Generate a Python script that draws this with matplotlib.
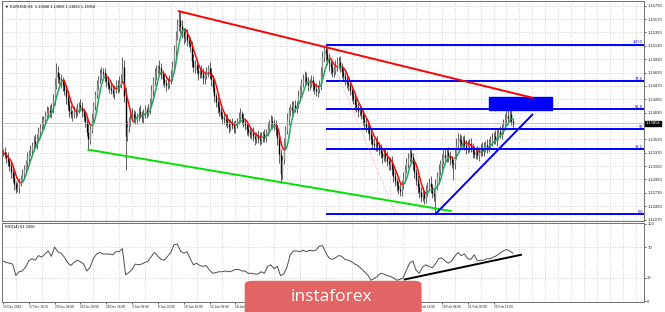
import numpy as np
import pandas as pd
import matplotlib
matplotlib.use("Agg")
import matplotlib.pyplot as plt
from matplotlib.collections import LineCollection
from matplotlib.patches import Rectangle, FancyBboxPatch

plt.rcParams["font.family"] = ["Liberation Sans", "DejaVu Sans"]

# EURUSD H4 closes, in pips above 1.1000 (13 Dec 2018 .. 26 Feb 2019)
close_pips = [
    338, 333, 329, 322, 315, 306, 296, 285, 278, 281, 289, 294, 301,
    310, 320, 328, 336, 342, 350, 356, 352, 362, 372, 380, 386, 392, 398, 404, 408, 402, 410,
    425, 448, 470, 462, 458, 455, 448,
    440, 428, 415, 405, 400, 402, 406,
    404, 410, 415, 412, 406, 398, 388, 372, 360, 375, 395, 415, 432, 448, 458, 465, 470, 468,
    462, 455, 448, 444, 440, 436, 442, 448, 444, 452, 460, 478,
    430, 365, 380,
    388, 395, 400, 396, 392, 398, 404, 400, 396, 402, 407, 403, 409,
    420, 440, 456, 466, 474, 478, 476,
    466, 458, 452, 448, 452, 458, 464,
    480, 505, 530, 548, 556,
    545, 535, 528, 532, 522, 518, 512,
    488, 478, 482, 474, 468, 472, 466, 460, 465, 470, 476, 468, 458,
    445, 430, 420, 412, 405, 398, 395, 392,
    390, 385, 380, 386, 382, 378, 384, 390, 396, 400, 394, 388,
    382, 376, 372, 368, 370, 364, 360, 366, 362, 358, 364, 368, 362, 370, 378, 384, 390, 386,
    382, 376, 362, 335, 302, 325, 352, 374, 392,
    405, 412, 408, 415, 410, 418, 432, 442, 452, 458, 462, 455, 448, 452, 456, 448, 442, 438, 442, 448,
    470, 495, 508, 500,
    492, 485, 478, 470, 474, 480, 484,
    486, 478, 470, 464, 458, 452, 448,
    440, 432, 425, 418, 412, 405, 408, 400, 392, 386, 380,
    378, 368, 360, 352, 350, 356, 348,
    342, 336, 330, 336, 330, 324, 318, 322,
    310, 298, 290, 284, 278, 274,
    284, 296, 310, 320, 328, 336, 330,
    318, 305, 292, 280, 272, 264, 270, 262,
    275, 282, 288, 280, 270, 266, 285,
    298, 308, 318, 326, 334, 330, 338, 332,
    326, 320, 318, 335, 350,
    360, 356, 352, 358, 350, 345, 348,
    352, 346, 338, 335, 340, 334, 338, 344, 340, 346, 350, 346, 352, 356,
    360, 364, 358, 366, 372, 368, 376, 382,
    392, 398, 394, 400, 390, 385,
]
# upper / lower shadow lengths in pips
up_wick = [
    6, 8, 5, 9, 4, 7, 6, 10, 5, 8, 7, 6, 9,
    7, 5, 10, 6, 8, 4, 9, 12, 6, 7, 5, 11, 6, 8, 10, 5, 7, 9,
    8, 12, 15, 10, 7, 9, 6,
    10, 8, 6, 9, 11, 5, 8,
    7, 9, 6, 10, 8, 5, 7, 9, 12, 6, 8, 5, 7, 9, 6, 10, 8, 7,
    9, 6, 8, 5, 10, 7, 6, 9, 8, 11, 7, 17,
    12, 15, 10,
    8, 6, 10, 7, 9, 5, 8, 11, 6, 7, 9, 6, 8,
    7, 9, 6, 10, 8, 4, 12,
    9, 7, 10, 6, 8, 7, 9,
    8, 10, 7, 9, 14,
    12, 10, 8, 11, 9, 7, 10,
    9, 12, 7, 10, 8, 6, 9, 11, 7, 8, 6, 10, 8,
    7, 9, 6, 8, 10, 7, 6, 9,
    8, 10, 7, 6, 9, 8, 7, 5, 8, 10, 6, 9,
    7, 6, 9, 8, 5, 10, 7, 6, 8, 9, 7, 5, 8, 6, 10, 7, 9, 8,
    6, 9, 7, 10, 8, 6, 9, 7, 10,
    8, 6, 10, 7, 9, 5, 8, 7, 6, 9, 10, 8, 6, 7, 9, 8, 6, 10, 7, 8,
    9, 10, 7, 6,
    12, 9, 8, 10, 7, 9, 11,
    8, 10, 7, 9, 6, 8, 7,
    9, 7, 6, 8, 10, 7, 9, 6, 8, 7, 9,
    8, 6, 9, 7, 10, 6, 8,
    7, 9, 6, 8, 7, 10, 6, 8,
    9, 7, 8, 6, 7, 9,
    8, 10, 7, 9, 8, 10, 9,
    7, 8, 6, 9, 7, 8, 10, 6,
    9, 7, 8, 10, 6, 7, 9,
    8, 10, 7, 9, 8, 11, 7, 9,
    8, 6, 7, 10, 12,
    10, 8, 11, 7, 9, 8, 10,
    8, 9, 7, 10, 6, 8, 9, 7, 10, 8, 6, 9, 7, 8,
    9, 7, 10, 8, 6, 9, 8, 10,
    9, 8, 10, 6, 8, 5,
]
down_wick = [
    7, 5, 9, 6, 8, 10, 7, 9, 8, 6, 10, 7, 5,
    8, 6, 9, 7, 5, 10, 8, 6, 9, 7, 11, 6, 8, 7, 5, 9, 6, 8,
    7, 9, 6, 10, 8, 12, 9,
    8, 10, 7, 9, 6, 11, 8,
    9, 6, 8, 7, 10, 8, 9, 7, 18, 8, 6, 9, 7, 5, 8, 6, 9, 7,
    8, 10, 6, 9, 7, 8, 10, 6, 9, 7, 8, 6,
    10, 56, 9,
    9, 7, 6, 10, 8, 7, 9, 6, 8, 10, 7, 9, 6,
    8, 6, 9, 7, 10, 8, 7,
    8, 10, 7, 9, 6, 8, 7,
    9, 6, 8, 7, 10,
    11, 9, 12, 8, 10, 7, 9,
    10, 8, 9, 7, 11, 8, 6, 9, 10, 7, 8, 9, 11,
    8, 10, 7, 9, 8, 6, 10, 7,
    9, 8, 10, 7, 6, 9, 8, 7, 6, 8, 10, 9,
    8, 10, 7, 6, 9, 8, 10, 7, 9, 8, 6, 10, 7, 8, 6, 9, 7, 10,
    8, 9, 12, 15, 14, 8, 7, 9, 6,
    9, 7, 8, 10, 6, 8, 7, 9, 8, 6, 10, 7, 9, 8, 6, 9, 8, 7, 10, 6,
    7, 9, 8, 12,
    10, 14, 12, 9, 8, 7, 9,
    9, 8, 10, 7, 9, 8, 10,
    8, 9, 7, 10, 8, 9, 7, 8, 10, 9, 8,
    9, 10, 8, 7, 9, 10, 8,
    9, 8, 10, 7, 9, 8, 10, 9,
    10, 9, 8, 10, 9, 8,
    8, 7, 9, 6, 8, 7, 10,
    9, 10, 8, 9, 10, 8, 7, 9,
    8, 9, 7, 10, 8, 9, 30,
    9, 7, 8, 10, 7, 9, 8, 10,
    9, 8, 26, 7, 8,
    9, 10, 8, 7, 9, 10, 8,
    9, 8, 10, 7, 9, 8, 10, 7, 8, 9, 7, 10, 8, 9,
    8, 9, 7, 10, 8, 7, 9, 8,
    8, 10, 9, 7, 8, 6,
]
# RSI(14)
rsi_2bar = [
    52, 50, 49, 48, 33, 38, 39, 44, 52, 55,
    53, 59, 57, 61, 65, 58, 70, 64, 62, 57,
    50, 46, 50, 53, 51, 48, 39, 44, 55, 61,
    63, 61, 61, 61, 60, 64, 64, 68, 34, 37,
    41, 48, 47, 48, 50, 52, 58, 63, 58, 54,
    53, 58, 63, 73, 74, 65, 62, 64, 55, 47,
    49, 46, 45, 46, 40, 36, 37, 38, 38, 39,
    38, 39, 41, 41, 39, 39, 36, 36, 35, 35,
    38, 36, 45, 47, 42, 45, 33, 35, 44, 60,
    65, 65, 64, 66, 64, 66, 65, 66, 71, 72,
    63, 56, 54, 56, 59, 58, 54, 53, 51, 48,
    46, 42, 38, 34, 27, 29, 32, 36, 35, 33,
    32, 30, 27, 28, 30, 40, 49, 52, 40, 36,
    44, 47, 45, 43, 48, 55, 56, 52, 49, 52,
    58, 63, 59, 61, 55, 54, 60, 52, 53, 53,
    55, 55, 57, 59, 62, 65, 67, 65, 62,
]

time_labels = ["13 Dec 2018", "17 Dec 16:00", "20 Dec 08:00", "26 Dec 00:00", "28 Dec 16:00",
               "3 Jan 08:00", "8 Jan 00:00", "10 Jan 16:00", "15 Jan 08:00", "18 Jan 00:00",
               "22 Jan 16:00", "25 Jan 08:00", "30 Jan 00:00", "1 Feb 16:00", "6 Feb 08:00",
               "11 Feb 00:00", "13 Feb 16:00", "18 Feb 08:00", "21 Feb 00:00", "25 Feb 16:00"]
price_ticks = [1.1227, 1.1249, 1.1271, 1.1293, 1.1315, 1.1337, 1.1359, 1.1381, 1.1403,
               1.1425, 1.1447, 1.1469, 1.1491, 1.1513, 1.1535, 1.1557, 1.1579]
rsi_ticks = [0, 30, 70, 100]
rsi_levels = [30, 70]

fib_names = ["0.0", "38.2", "50", "61.8", "78.6", "100.0"]
fib_low, fib_high, fib_start = 1.1236, 1.1515, 200

# drawn objects: (bar indices, prices)
red_line = ([109, 328], [1.1570, 1.14276])
green_line = ([53, 277.4], [1.1342, 1.12412])
blue_line = ([268, 328], [1.1236, 1.13996])
fib_diag = ([200, 243], [1.1515, 1.1238])
rsi_trend = ([249, 321], [28, 60])
box_bars = (301.5, 340.5)
box_prices = (1.1408, 1.1428)
last_price = 1.13854
header = "\u25bc EURUSD,H4  1.13848 1.13858 1.13823 1.13854"
rsi_title = "RSI(14) 61.3356"

n = len(close_pips)
x = np.arange(n)
c = 1.1 + np.array(close_pips) / 1e4
o = np.r_[c[0], c[:-1]]
hi = np.maximum(o, c) + np.array(up_wick) / 1e4
lo = np.minimum(o, c) - np.array(down_wick) / 1e4
ma = pd.Series(c).rolling(6, min_periods=1).mean().values

fig = plt.figure(figsize=(6.65, 3.12), dpi=100)
ax = fig.add_axes([0.003, 0.2917, 0.966, 0.7035])
ax2 = fig.add_axes([0.003, 0.032, 0.966, 0.2548])
grid_kw = dict(ls=(0, (1, 2)), color="#c4c4c4", lw=0.6)

for a in (ax, ax2):
    a.set_xlim(-0.6, 397.5)
    a.set_xticks(np.arange(0, 397, 8), minor=True)
    a.grid(axis="x", which="minor", **grid_kw)
    a.yaxis.tick_right()
    a.tick_params(labelsize=3.0, length=1.3, width=0.5, pad=0.8, colors="#222222")
    a.tick_params(which="minor", length=0)
    for s in a.spines.values():
        s.set_color("#707070")
        s.set_linewidth(0.7)

# price panel
ax.set_ylim(1.12247, 1.1586)
ax.set_xticks([])
# the 1.13810 label sits under the last-price box, as in the terminal
ax.set_yticks(price_ticks, ["" if abs(p - 1.1381) < 1e-6 else f"{p:.5f}" for p in price_ticks])
ax.grid(axis="y", **grid_kw)

ax.vlines(x, lo, hi, color="#454545", lw=0.6)
ax.vlines(x, np.minimum(o, c), np.maximum(o, c),
          colors=np.where(c >= o, "#909090", "#000000"), lw=1.0)

pts = np.column_stack([x, ma])
segs = np.stack([pts[:-1], pts[1:]], axis=1)
ma_cols = np.where(np.diff(ma) >= 0, "#1fa55a", "#ff0000")
ax.add_collection(LineCollection(segs, colors=ma_cols, lw=1.1, zorder=3))

ax.axhline(last_price, color="#b4b4b4", lw=0.5)
for name in fib_names:
    lvl = fib_low + float(name) / 100 * (fib_high - fib_low)
    ax.hlines(lvl, fib_start, 397.5, color="#0000ff", lw=1.4, zorder=4)
    ax.text(396.5, lvl + 0.00004, name, ha="right", va="bottom", fontsize=2.9, color="#0000ff")

ax.add_patch(Rectangle((box_bars[0], box_prices[0]), box_bars[1] - box_bars[0],
                       box_prices[1] - box_prices[0], color="#0000ff", zorder=4))
ax.plot(*fib_diag, color="#ff8c8c", lw=0.6, ls=(0, (1, 1.5)), zorder=4)
ax.plot(*red_line, color="#ff0000", lw=1.4, zorder=5)
ax.plot(*green_line, color="#00e000", lw=1.4, zorder=5)
ax.plot(*blue_line, color="#0000ff", lw=1.4, zorder=5)

ax.text(1.002, last_price, f"{last_price:.5f}", transform=ax.get_yaxis_transform(),
        fontsize=3.0, color="white", va="center", ha="left", clip_on=False, zorder=6,
        bbox=dict(boxstyle="square,pad=0.2", fc="black", ec="black"))
ax.text(0.004, 0.985, header, transform=ax.transAxes, fontsize=2.8, va="top")

# RSI panel
ax2.set_ylim(-1.3, 101.9)
ax2.set_yticks(rsi_ticks, [str(t) for t in rsi_ticks])
for lv in rsi_levels:
    ax2.axhline(lv, **grid_kw)
ax2.set_xticks(np.arange(len(time_labels)) * 16, time_labels)
for t in ax2.get_xticklabels():
    t.set_ha("left")
ax2.tick_params(axis="x", labelsize=2.3, pad=1)
ax2.plot(np.arange(0, n, 2), rsi_2bar, color="#4d4d4d", lw=0.7)
ax2.plot(*rsi_trend, color="black", lw=1.4)
ax2.text(0.004, 0.97, rsi_title, transform=ax2.transAxes, fontsize=2.9, va="top")

# instaforex watermark
fig.add_artist(FancyBboxPatch((0.368, -0.03), 0.266, 0.13, transform=fig.transFigure,
                              boxstyle="round,pad=0,rounding_size=0.012",
                              fc="#e26464", ec="none"))
fig.text(0.4985, 0.047, "instaforex", color="white", fontsize=12.5,
         ha="center", va="center", family="Open Sans")

fig.savefig("out.png", dpi=100)
